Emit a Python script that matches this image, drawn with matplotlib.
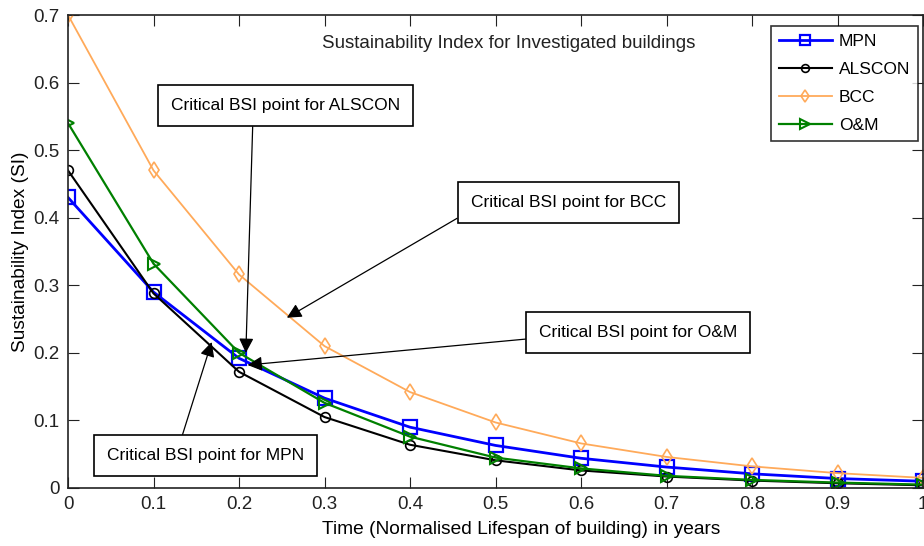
import matplotlib.pyplot as plt

plt.rcParams['font.family'] = ['Liberation Sans', 'DejaVu Sans']

time = [0, 0.1, 0.2, 0.3, 0.4, 0.5, 0.6, 0.7, 0.8, 0.9, 1.0]
mpn = [0.43, 0.29, 0.192, 0.133, 0.09, 0.063, 0.044, 0.031, 0.021, 0.014, 0.010]
alscon = [0.47, 0.288, 0.172, 0.105, 0.064, 0.041, 0.026, 0.017, 0.011, 0.007, 0.004]
bcc = [0.70, 0.47, 0.316, 0.21, 0.142, 0.097, 0.066, 0.046, 0.032, 0.022, 0.015]
om = [0.54, 0.332, 0.20, 0.126, 0.076, 0.045, 0.029, 0.018, 0.012, 0.008, 0.005]

fig = plt.figure(figsize=(9.24, 5.46), dpi=100)
ax = fig.add_axes([68 / 924, 58 / 546, 855 / 924, 473 / 546])

ax.plot(time, mpn, color='#0000ff', lw=2, marker='s', ms=9.5, mfc='none', mew=1.6, label='MPN')
ax.plot(time, alscon, color='black', lw=1.5, marker='o', ms=7, mfc='none', mew=1.2, label='ALSCON')
ax.plot(time, bcc, color='#ffaa5a', lw=1.3, marker='d', ms=8, mfc='none', mew=1.2, label='BCC')
ax.plot(time, om, color='#008000', lw=1.6, marker='>', ms=9, mfc='none', mew=1.5, label='O&M')

ax.set_xlim(0, 1)
ax.set_ylim(0, 0.7)
ax.set_xticks([0, 0.1, 0.2, 0.3, 0.4, 0.5, 0.6, 0.7, 0.8, 0.9, 1.0])
ax.set_xticklabels(['0', '0.1', '0.2', '0.3', '0.4', '0.5', '0.6', '0.7', '0.8', '0.9', '1'])
ax.set_yticks([0, 0.1, 0.2, 0.3, 0.4, 0.5, 0.6, 0.7])
ax.set_yticklabels(['0', '0.1', '0.2', '0.3', '0.4', '0.5', '0.6', '0.7'])
ax.tick_params(direction='in', top=True, right=True, length=8, labelsize=13.5, colors='#222222')
ax.tick_params(axis='x', pad=6)
ax.tick_params(axis='y', pad=6)
for s in ax.spines.values():
    s.set_linewidth(1.2)
    s.set_color('#222222')

ax.set_xlabel('Time (Normalised Lifespan of building) in years', fontsize=13.8, labelpad=4)
ax.xaxis.set_label_coords(0.53, -0.07)
ax.set_ylabel('Sustainability Index (SI)', fontsize=13.8, labelpad=3)
ax.text(0.515, 0.94, 'Sustainability Index for Investigated buildings', transform=ax.transAxes,
        ha='center', va='center', fontsize=13.5, color='#222222')

leg = ax.legend(loc='upper right', bbox_to_anchor=(0.994, 0.977), fancybox=False,
                edgecolor='black', fontsize=12.5, handlelength=3.05, borderpad=0.45, labelspacing=0.75,
                handletextpad=0.4, borderaxespad=0, markerscale=0.8)
leg.get_frame().set_linewidth(1.2)

box = dict(boxstyle='square,pad=0.75', fc='white', ec='black', lw=1.2)
arrow = dict(arrowstyle='-|>', color='black', lw=0.9, mutation_scale=22, shrinkA=0, shrinkB=0)

ax.annotate('Critical BSI point for ALSCON', xy=(0.208, 0.2), xytext=(0.12, 0.566),
            fontsize=12.5, va='center', ha='left', bbox=box,
            arrowprops=dict(arrow, relpos=(0.36, 0)))
ax.annotate('Critical BSI point for BCC', xy=(0.256, 0.252), xytext=(0.471, 0.422),
            fontsize=12.5, va='center', ha='left', bbox=box,
            arrowprops=dict(arrow, relpos=(0, 0)))
ax.annotate('Critical BSI point for O&M', xy=(0.21, 0.182), xytext=(0.551, 0.23),
            fontsize=12.5, va='center', ha='left', bbox=box,
            arrowprops=dict(arrow, relpos=(0, 0.15)))
ax.annotate('Critical BSI point for MPN', xy=(0.168, 0.216), xytext=(0.046, 0.048),
            fontsize=12.5, va='center', ha='left', bbox=box,
            arrowprops=dict(arrow, relpos=(0.36, 1)))

fig.savefig('out.png', dpi=100)
